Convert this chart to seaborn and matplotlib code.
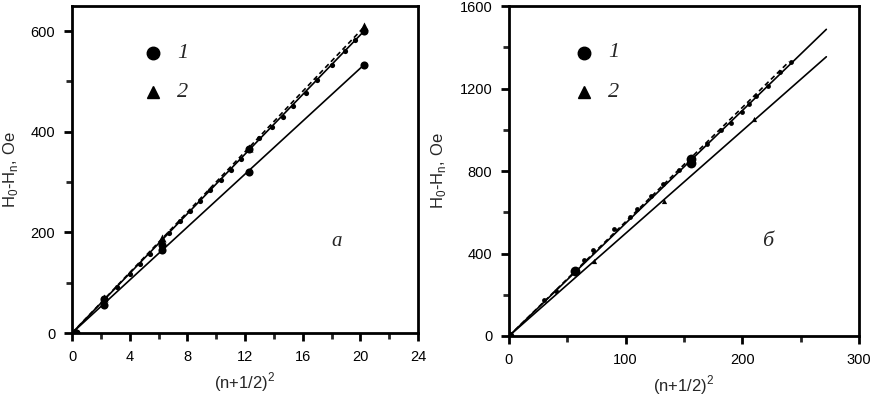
import numpy as np
import pandas as pd
import matplotlib
matplotlib.use('Agg')
import matplotlib.pyplot as plt
import seaborn as sns
from matplotlib.ticker import MultipleLocator

# panel a: (n+1/2)^2 vs H0-Hn
xa = [0.25, 2.25, 6.25, 12.25, 20.25]
a_circ_low = [0, 56, 165, 320, 533]
a_circ_up = [0, 68, 175, 366, 600]
a_tri = [0, 70, 189, 368, 610]
a_line_low_x = [0, 20.25]
a_line_low_y = [0, 533]
a_line_up_x = [0, 20.25]
a_line_up_y = [0, 600]
a_dash_x = [0, 20.25]
a_dash_y = [0, 608]
a_dot_x = [2.3, 3.1, 4.0, 4.7, 5.4, 6.7, 7.5, 8.2, 8.9, 9.6, 10.3, 11.0,
           11.7, 13.0, 13.9, 14.6, 15.3, 16.2, 17.0, 18.0, 18.9, 19.6]
a_dot_y = [67, 92, 118, 138, 158, 198, 222, 243, 263, 284, 305, 325,
           346, 388, 410, 430, 452, 478, 502, 532, 560, 582]

# panel b
b_circ_x = [0, 56.8, 156.3, 156.3]
b_circ_y = [0, 317, 857, 840]
b_tri_x = [73, 133, 210]
b_tri_y = [364, 655, 1050]
b_line_up_x = [0, 272]
b_line_up_y = [0, 1487]
b_line_low_x = [0, 272]
b_line_low_y = [0, 1354]
b_dash_x = [0, 240]
b_dash_y = [0, 1330]
b_dot_x = [30, 40, 64, 72, 90, 104, 110, 122, 132, 146, 170, 182, 190, 200, 206, 212, 222, 232, 242]
b_dot_y = [175, 220, 370, 415, 520, 575, 615, 680, 735, 805, 930, 1000, 1035, 1085, 1125, 1165, 1210, 1280, 1330]

sns.set_style('ticks')
plt.rcParams['font.family'] = ['Liberation Sans', 'DejaVu Sans']
plt.rcParams['mathtext.fontset'] = 'custom'
plt.rcParams['mathtext.rm'] = 'Liberation Sans'

fig = plt.figure(figsize=(8.72, 3.98), dpi=100)
ax1 = fig.add_axes([0.0826, 0.1633, 0.3968, 0.8216])
ax2 = fig.add_axes([0.5837, 0.1558, 0.4014, 0.829])

lw = 1.2
serif_it = dict(family='Liberation Serif', style='italic')


def lines(ax, xs, ys, ls='-'):
    sns.lineplot(x=xs, y=ys, ax=ax, color='black', lw=lw, linestyle=ls,
                 estimator=None, sort=False)


# panel a
lines(ax1, a_line_low_x, a_line_low_y)
lines(ax1, a_line_up_x, a_line_up_y)
lines(ax1, a_dash_x, a_dash_y, ls=(0, (3, 2)))
sns.scatterplot(x=a_dot_x, y=a_dot_y, ax=ax1, color='black', s=14, marker='o', linewidth=0)
sns.scatterplot(x=xa, y=a_circ_low, ax=ax1, color='black', s=34, marker='o', linewidth=0)
sns.scatterplot(x=xa, y=a_circ_up, ax=ax1, color='black', s=34, marker='o', linewidth=0)
sns.scatterplot(x=xa, y=a_tri, ax=ax1, color='black', s=34, marker='^', linewidth=0)

ax1.set_xlim(0, 24)
ax1.set_ylim(0, 650)
ax1.xaxis.set_major_locator(MultipleLocator(4))
ax1.xaxis.set_minor_locator(MultipleLocator(2))
ax1.yaxis.set_major_locator(MultipleLocator(200))
ax1.yaxis.set_minor_locator(MultipleLocator(100))
ax1.text(0.766, 0.281, 'а', transform=ax1.transAxes, fontsize=15,
         ha='center', va='center', **serif_it)

# panel b
lines(ax2, b_line_up_x, b_line_up_y)
lines(ax2, b_line_low_x, b_line_low_y)
lines(ax2, b_dash_x, b_dash_y, ls=(0, (3, 2)))
sns.scatterplot(x=b_dot_x, y=b_dot_y, ax=ax2, color='black', s=12, marker='o', linewidth=0)
sns.scatterplot(x=b_tri_x, y=b_tri_y, ax=ax2, color='black', s=14, marker='^', linewidth=0)
sns.scatterplot(x=b_circ_x, y=b_circ_y, ax=ax2, color='black', s=50, marker='o', linewidth=0)

ax2.set_xlim(0, 300)
ax2.set_ylim(0, 1600)
ax2.xaxis.set_major_locator(MultipleLocator(100))
ax2.xaxis.set_minor_locator(MultipleLocator(50))
ax2.yaxis.set_major_locator(MultipleLocator(400))
ax2.yaxis.set_minor_locator(MultipleLocator(200))
ax2.text(0.74, 0.285, 'б', transform=ax2.transAxes, fontsize=16,
         ha='center', va='center', **serif_it)

legend_pos = {ax1: (0.234, 0.856, 0.737), ax2: (0.214, 0.858, 0.739)}
for ax in (ax1, ax2):
    lx, ly1, ly2 = legend_pos[ax]
    ax.plot([lx], [ly1], 'o', color='black', ms=9, transform=ax.transAxes)
    ax.plot([lx], [ly2], '^', color='black', ms=9, transform=ax.transAxes)
    ax.text(lx + 0.085, ly1, '1', transform=ax.transAxes, fontsize=16,
            ha='center', va='center', **serif_it)
    ax.text(lx + 0.085, ly2, '2', transform=ax.transAxes, fontsize=16,
            ha='center', va='center', **serif_it)

    for s in ax.spines.values():
        s.set_visible(True)
        s.set_linewidth(2)
        s.set_color('black')
    ax.tick_params(which='major', direction='out', length=6, width=2,
                   labelsize=10.5, colors='black', pad=6)
    ax.tick_params(which='minor', direction='out', length=4, width=2)
    ax.set_xlabel(r'(n+1/2)$^{\mathrm{2}}$', fontsize=12, labelpad=5)
    ax.set_ylabel(r'H$_{\mathrm{0}}$-H$_{\mathrm{n}}$, Oe', fontsize=12, labelpad=8)

fig.savefig('out.png', dpi=100)
